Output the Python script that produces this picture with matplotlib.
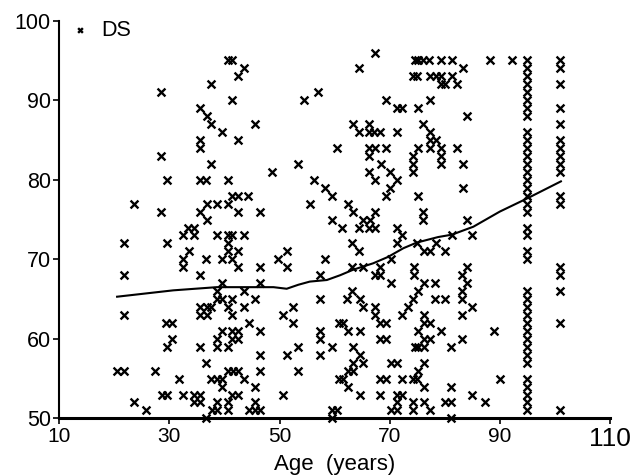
import matplotlib
matplotlib.use("Agg")
import matplotlib.pyplot as plt

plt.rcParams['font.family'] = ['Liberation Sans', 'DejaVu Sans']

# individual subjects (age, DS score)
pts = [
    (23.6, 77), (28.5, 91), (28.5, 83), (29.6, 80), (28.5, 76), (32.4, 73), (33.3, 74), (34.5, 74),
    (34.5, 73), (35.5, 89), (35.5, 85), (35.5, 84), (35.5, 80), (36.6, 80), (36.8, 88), (37.5, 87),
    (37.5, 92), (37.5, 82), (35.5, 76), (36.8, 77), (36.8, 75), (38.6, 77), (38.6, 73), (39.5, 86),
    (40.6, 95), (41.3, 95), (41.3, 90), (40.6, 80), (40.6, 77), (41.3, 78), (42.4, 78), (42.4, 76),
    (42.4, 85), (42.4, 93), (43.5, 94), (40.6, 73), (41.3, 73), (43.5, 73), (44.3, 78), (45.5, 87),
    (46.4, 76), (48.6, 81), (53.4, 82), (54.4, 90), (55.5, 77), (56.2, 80), (57.0, 91),
    (67.3, 96), (64.4, 94), (69.3, 90), (71.3, 89), (72.2, 89), (75.2, 89), (77.3, 90),
    (74.6, 95), (75.2, 95), (76.1, 95), (77.2, 95), (79.4, 95), (81.3, 95),
    (74.3, 93), (74.9, 93), (77.3, 93), (78.4, 93), (79.4, 93), (81.3, 93),
    (79.4, 92), (80.0, 92), (82.2, 92), (83.3, 94), (88.2, 95), (92.2, 95), (84.1, 88),
    (63.4, 87), (64.4, 86), (66.3, 87), (66.3, 86), (67.1, 86), (68.2, 86), (71.3, 86),
    (60.5, 84), (66.3, 84), (67.3, 84), (66.3, 83), (69.3, 84),
    (76.1, 87), (77.3, 86), (77.3, 85), (78.4, 85), (77.3, 84), (75.2, 84),
    (79.4, 84), (79.4, 83), (79.4, 82), (82.2, 84), (74.3, 83), (74.3, 82), (74.3, 81),
    (68.4, 82), (83.3, 82), (66.3, 81), (70.1, 81), (67.3, 80), (71.3, 80),
    (58.3, 79), (59.5, 78), (62.4, 77), (63.4, 76), (69.3, 78), (70.1, 79), (75.2, 78), (83.3, 79),
    (76.1, 76), (76.1, 75), (59.5, 75), (61.3, 74), (64.4, 74), (65.2, 75), (66.4, 75), (67.3, 76),
    (66.3, 74), (67.3, 74), (71.3, 74), (72.2, 73), (81.3, 73), (85.0, 73), (84.1, 75),
    (21.8, 72), (21.8, 68), (21.8, 63), (20.5, 56), (21.8, 56), (23.6, 52), (25.7, 51), (27.4, 56),
    (28.6, 53), (29.6, 53), (29.5, 72), (29.3, 62), (30.5, 62), (29.5, 59), (30.5, 60), (31.7, 55),
    (32.4, 70), (32.4, 69), (33.6, 71), (32.4, 53), (34.5, 53), (35.6, 53), (34.5, 52), (35.6, 52),
    (35.6, 68), (35.6, 59), (35.6, 64), (35.6, 63), (36.8, 64), (36.8, 63), (37.5, 64), (36.6, 57),
    (36.6, 50), (36.6, 70), (39.5, 70), (41.3, 70), (40.6, 72), (40.6, 71), (42.4, 71), (42.4, 69),
    (39.5, 67), (38.6, 66), (38.6, 65), (39.5, 65), (41.3, 65), (40.6, 64), (41.3, 63), (43.6, 66),
    (43.6, 64), (44.5, 62), (45.5, 65), (46.4, 69), (46.4, 67), (46.4, 61), (46.4, 58), (46.4, 56),
    (45.5, 54), (45.5, 52), (45.5, 51), (46.4, 51), (44.5, 51),
    (38.6, 60), (38.6, 59), (39.5, 61), (40.6, 59), (41.3, 61), (42.4, 61), (42.4, 60), (41.3, 60),
    (37.5, 55), (38.6, 55), (39.5, 55), (39.5, 54), (40.6, 56), (41.6, 56), (42.4, 56), (43.6, 55),
    (41.3, 53), (42.4, 53), (37.7, 51), (38.6, 51), (38.6, 52), (40.6, 52), (40.6, 51),
    (49.7, 70), (51.3, 71), (51.3, 69), (50.6, 63), (52.5, 64), (52.5, 62), (53.4, 59), (51.3, 58),
    (53.4, 56), (50.6, 53),
    (58.2, 70), (57.3, 68), (57.3, 65), (57.3, 61), (57.3, 60), (57.3, 58), (59.5, 59), (59.5, 51),
    (60.4, 51), (59.5, 50), (60.8, 62), (61.5, 62), (62.5, 61), (64.6, 61), (63.4, 59), (64.6, 58),
    (63.4, 57), (63.4, 56), (62.5, 56), (65.2, 57), (60.8, 55), (61.5, 55), (62.5, 54), (64.6, 53),
    (63.1, 72), (64.5, 71), (63.1, 69), (65.2, 69), (63.1, 66), (62.2, 65), (64.6, 65), (65.2, 64),
    (67.3, 64), (67.3, 63), (68.2, 62), (69.3, 62), (68.2, 60), (69.3, 60), (68.2, 55), (69.3, 55),
    (68.2, 53), (67.3, 68), (68.2, 68), (68.2, 69),
    (70.2, 70), (70.2, 67), (71.3, 72), (72.2, 63), (73.4, 64), (74.3, 65), (75.2, 66), (74.4, 69),
    (74.4, 68), (75.0, 72), (76.2, 67), (76.2, 71), (77.3, 71), (78.4, 72), (78.2, 67), (78.2, 65),
    (80.0, 65), (80.0, 71), (83.2, 68), (84.0, 69), (84.0, 67), (83.2, 66), (83.2, 65), (85.0, 64),
    (83.2, 63), (83.2, 60), (76.2, 63), (76.2, 62), (77.3, 62), (75.2, 61), (76.2, 60), (77.3, 60),
    (79.4, 61), (74.6, 59), (75.2, 59), (76.2, 59), (76.2, 57), (75.2, 56), (74.3, 55), (74.9, 55),
    (76.2, 54), (70.2, 57), (71.3, 57), (72.2, 55), (71.3, 53), (72.2, 53), (71.3, 52), (70.2, 51),
    (71.3, 51), (74.3, 52), (74.3, 51), (76.2, 52), (77.3, 51), (80.0, 52), (81.2, 52), (81.2, 50),
    (81.2, 59), (81.2, 54), (85.0, 53), (87.3, 52), (89.0, 61), (90.0, 55),
]

# the two stacked columns of oldest subjects
col95_scores = [95, 94, 93, 92, 91, 90, 89, 88, 86, 85, 84, 83, 82, 81, 80, 79, 78, 77, 76,
                74, 73, 71, 70, 66, 65, 64, 63, 62, 61, 60, 59, 58, 57, 55, 54, 53, 52, 51]
col101_scores = [95, 94, 92, 89, 87, 85, 84, 83, 82, 81, 78, 77, 69, 68, 66, 62, 51]

# smoothed trend
trend_age = [20.5, 30.7, 38.6, 42.8, 48.9, 51.3, 53.4, 55.5, 58.6, 61.0, 63.4, 67.0,
             69.7, 72.5, 74.9, 78.8, 81.3, 85.2, 90.0, 95.1, 101.1]
trend_ds = [65.3, 66.1, 66.5, 66.5, 66.5, 66.3, 66.8, 67.2, 67.4, 68.0, 68.7, 69.5,
            70.3, 71.4, 72.1, 72.8, 73.1, 74.1, 76.0, 77.7, 79.8]

ages = [p[0] for p in pts] + [95] * len(col95_scores) + [101] * len(col101_scores)
ds = [p[1] for p in pts] + col95_scores + col101_scores

fig = plt.figure(figsize=(6.34, 4.76), dpi=100)
ax = fig.add_axes([0.0935, 0.121, 0.8685, 0.8355])

ax.scatter(ages, ds, marker='x', s=32, linewidths=1.7, color='black', label='DS', clip_on=False, zorder=3)
ax.plot(trend_age, trend_ds, color='black', lw=1.5, zorder=2)

ax.set_xlim(10, 110)
ax.set_ylim(50, 100)
ax.set_xticks([10, 30, 50, 70, 90, 110])
ax.set_yticks([50, 60, 70, 80, 90, 100])
ax.tick_params(direction='out', length=4, width=1.2, labelsize=15, pad=2)
ax.tick_params(axis='y', labelsize=15.5)
ax.get_xticklabels()[-1].set_fontsize(19)
for s in ['top', 'right']:
    ax.spines[s].set_visible(False)
ax.spines['left'].set_linewidth(1.5)
ax.spines['bottom'].set_linewidth(2.2)

ax.set_xlabel('Age  (years)', fontsize=16, labelpad=2)

ax.legend(loc='upper left', bbox_to_anchor=(-0.005, 1.035), frameon=False, fontsize=15.5,
          markerscale=0.6, handlelength=1.0, handletextpad=0.5, borderaxespad=0.2)

fig.savefig('out.png', dpi=100)
